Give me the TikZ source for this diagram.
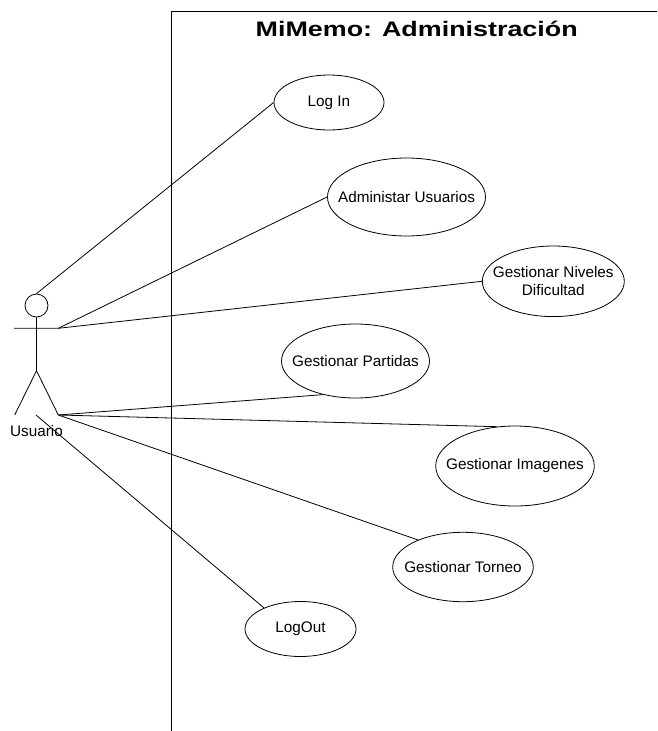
\documentclass[tikz,border=0pt]{standalone}
\usepackage{fontspec}
\setmainfont{Liberation Sans}
\usepackage{graphicx}
\usetikzlibrary{shapes.geometric}

\tikzset{
  link/.style={line width=0.8pt, black},
  usecase/.style={draw, ellipse, inner sep=0pt, line width=0.8pt},
  uctext/.style={inner sep=0pt, align=center, font=\fontsize{15.3}{18.4}\selectfont},
}

\begin{document}
\begin{tikzpicture}[x=1pt, y=-1pt]
\useasboundingbox (0,0) rectangle (657,731);

% system boundary and title
\draw[link] (657,11) -- (171.5,11) -- (171.5,731);
\node[anchor=base, inner sep=0pt, font=\bfseries\fontsize{21}{25}\selectfont] (title) at (416.7,36.7)
  {\scalebox{1.28}[1]{MiMemo: Administración}};

% actor
\node[draw, circle, minimum size=23pt, inner sep=0pt, line width=0.8pt] (head) at (36.5,305.5) {};
\coordinate (hip)   at (36.5,370.7);
\coordinate (lhand) at (14,328.3);
\coordinate (rhand) at (58.3,328.3);
\coordinate (lfoot) at (14.7,415);
\coordinate (rfoot) at (58.3,415);
\coordinate (base)  at (36,415);
\draw[link] (head.south) -- (hip) -- (lfoot) (hip) -- (rfoot) (lhand) -- (rhand);
\node[uctext, anchor=base] (actorname) at (36.5,436.7) {Usuario};

% use cases
\node[usecase, minimum width=110pt,   minimum height=55pt]   (login)    at (329,102.5) {};
\node[usecase, minimum width=158pt,   minimum height=78pt]   (admin)    at (406.5,197) {};
\node[usecase, minimum width=142pt,   minimum height=70.6pt] (niveles)  at (553.3,281.3) {};
\node[usecase, minimum width=148pt,   minimum height=74pt]   (partidas) at (355.5,361) {};
\node[usecase, minimum width=158.6pt, minimum height=80pt]   (imagenes) at (515,466) {};
\node[usecase, minimum width=140.6pt, minimum height=69.4pt] (torneo)   at (463,567) {};
\node[usecase, minimum width=111pt,   minimum height=55pt]   (logout)   at (300.5,629) {};

\node[uctext] (logintext)    at (login)    {Log In};
\node[uctext] (admintext)    at (admin)    {Administar Usuarios};
\node[uctext] (nivelestext)  at (niveles)  {Gestionar Niveles\\Dificultad};
\node[uctext] (partidastext) at (partidas) {Gestionar Partidas};
\node[uctext] (imagenestext) at (imagenes) {Gestionar Imagenes};
\node[uctext] (torneotext)   at (torneo)   {Gestionar Torneo};
\node[uctext] (logouttext)   at (logout)   {LogOut};

% associations
\draw[link] (head.north) -- (login.west);
\draw[link] (rhand) -- (admin.west);
\draw[link] (rhand) -- (niveles.west);
\draw[link] (rfoot) -- (partidas.226);
\draw[link] (rfoot) -- (imagenes.115);
\draw[link] (rfoot) -- (torneo.149);
\draw[link] (base) -- (logout.150);
\end{tikzpicture}
\end{document}
